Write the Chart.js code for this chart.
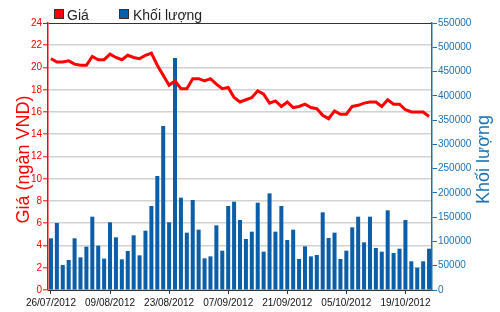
<!DOCTYPE html>
<html>
<head>
<meta charset="utf-8">
<script src="https://cdn.jsdelivr.net/npm/chart.js@4/dist/chart.umd.min.js"></script>
<style>
  html, body { margin: 0; padding: 0; background: #fff; }
  #wrap { width: 500px; height: 312px; position: relative; }
</style>
</head>
<body>
<div id="wrap"><canvas id="chart" width="500" height="312"></canvas></div>
<script>
// trading days, 26/07/2012 - 25/10/2012
const dates = [
    '26/07/2012', '27/07/2012', '30/07/2012', '31/07/2012',
    '01/08/2012', '02/08/2012', '03/08/2012', '06/08/2012', '07/08/2012', '08/08/2012',
    '09/08/2012', '10/08/2012', '13/08/2012', '14/08/2012', '15/08/2012', '16/08/2012',
    '17/08/2012', '20/08/2012', '21/08/2012', '22/08/2012', '23/08/2012', '24/08/2012',
    '27/08/2012', '28/08/2012', '29/08/2012', '30/08/2012', '31/08/2012',
    '04/09/2012', '05/09/2012', '06/09/2012', '07/09/2012', '10/09/2012', '11/09/2012',
    '12/09/2012', '13/09/2012', '14/09/2012', '17/09/2012', '18/09/2012', '19/09/2012',
    '20/09/2012', '21/09/2012', '24/09/2012', '25/09/2012', '26/09/2012', '27/09/2012',
    '28/09/2012', '01/10/2012', '02/10/2012', '03/10/2012', '04/10/2012', '05/10/2012',
    '08/10/2012', '09/10/2012', '10/10/2012', '11/10/2012', '12/10/2012', '15/10/2012',
    '16/10/2012', '17/10/2012', '18/10/2012', '19/10/2012', '22/10/2012', '23/10/2012',
    '24/10/2012', '25/10/2012'
];

// Giá (ngàn VND)
const price = [
    20.8, 20.5, 20.5, 20.6, 20.3, 20.2, 20.2, 21.0, 20.7, 20.7,
    21.2, 20.9, 20.7, 21.1, 20.9, 20.8, 21.1, 21.3, 20.2, 19.3,
    18.4, 18.8, 18.1, 18.1, 19.0, 19.0, 18.8, 19.0, 18.5, 18.1,
    18.2, 17.3, 16.9, 17.1, 17.3, 17.9, 17.6, 16.8, 17.0, 16.5,
    16.9, 16.4, 16.5, 16.7, 16.4, 16.3, 15.7, 15.4, 16.1, 15.8,
    15.8, 16.5, 16.6, 16.8, 16.9, 16.9, 16.5, 17.1, 16.7, 16.7,
    16.2, 16.0, 16.0, 16.0, 15.6
];

// Khối lượng
const volume = [
    106500, 138000, 51500, 61800, 106500, 67300, 89300, 151000, 91300, 64600,
    139400, 108500, 63200, 80300, 112600, 71400, 122200, 173000, 234800, 337800,
    139400, 477900, 190200, 118100, 185400, 124300, 65200, 69300, 133200, 81000,
    173000, 181900, 144200, 105100, 120200, 179900, 79000, 199100, 120200, 173000,
    103000, 124300, 63900, 90000, 69300, 72100, 160000, 107100, 118100, 63900,
    81000, 129100, 151000, 98200, 151000, 86500, 79000, 164100, 76200, 85100,
    144200, 59100, 46000, 59100, 85100
];

const priceTicks = { min: 0, max: 24, step: 2 };
const volumeTicks = { min: 0, max: 550000, step: 50000 };

const RED = '#ff0000';
const BLUE = '#0b5ea8';
const AXIS_BLUE = '#1a72b4';
const FONT = '"Liberation Sans", Arial, sans-serif';

// legend + axis titles, drawn on the canvas
const extras = {
    id: 'extras',
    afterDraw(chart) {
        const ctx = chart.ctx;
        ctx.save();

        ctx.font = '14px ' + FONT;
        ctx.textBaseline = 'alphabetic';
        ctx.lineWidth = 1;
        ctx.strokeStyle = '#333';

        ctx.fillStyle = RED;
        ctx.fillRect(54.5, 9.5, 9, 9);
        ctx.strokeRect(54.5, 9.5, 9, 9);
        ctx.fillStyle = '#222';
        ctx.fillText('Giá', 67, 19.5);

        ctx.fillStyle = BLUE;
        ctx.fillRect(119.5, 9.5, 9, 9);
        ctx.strokeRect(119.5, 9.5, 9, 9);
        ctx.fillStyle = '#222';
        ctx.fillText('Khối lượng', 133, 19.5);

        const area = chart.chartArea;
        const midY = (area.top + area.bottom) / 2 + 3;
        ctx.textAlign = 'center';
        ctx.textBaseline = 'middle';

        ctx.font = '18px ' + FONT;
        ctx.fillStyle = RED;
        ctx.translate(24, midY);
        ctx.rotate(-Math.PI / 2);
        ctx.fillText('Giá (ngàn VND)', 0, 0);
        ctx.setTransform(1, 0, 0, 1, 0, 0);

        ctx.fillStyle = AXIS_BLUE;
        ctx.translate(484, midY);
        ctx.rotate(-Math.PI / 2);
        ctx.fillText('Khối lượng', 0, 0);

        ctx.restore();
    }
};

const ctx = document.getElementById('chart').getContext('2d');
new Chart(ctx, {
    type: 'bar',
    data: {
        labels: dates,
        datasets: [
            {
                type: 'line',
                label: 'Giá',
                data: price,
                yAxisID: 'yPrice',
                borderColor: RED,
                backgroundColor: RED,
                borderWidth: 3,
                pointRadius: 0,
                tension: 0,
                order: 0
            },
            {
                type: 'bar',
                label: 'Khối lượng',
                data: volume,
                yAxisID: 'yVolume',
                backgroundColor: BLUE,
                barPercentage: 0.68,
                categoryPercentage: 1,
                order: 1
            }
        ]
    },
    options: {
        responsive: false,
        animation: false,
        layout: { padding: { top: 23, left: 0, right: 0, bottom: 0 } },
        plugins: {
            legend: { display: false },
            tooltip: { enabled: false }
        },
        scales: {
            x: {
                offset: true,
                afterFit: s => { s.height = 22; },
                grid: {
                    offset: false,
                    drawOnChartArea: false,
                    tickLength: 4,
                    color: c => (c.index % 10 === 0 ? '#333' : 'transparent')
                },
                border: { color: '#333', width: 1 },
                ticks: {
                    autoSkip: false,
                    maxRotation: 0,
                    padding: 3,
                    color: '#111',
                    font: { family: FONT, size: 10 },
                    callback: (v, i) => (i % 10 === 0 ? dates[i] : '')
                }
            },
            yPrice: {
                position: 'left',
                min: priceTicks.min,
                max: priceTicks.max,
                afterFit: s => { s.width = 48; },
                grid: {
                    color: c => (c.tick.value === priceTicks.max ? '#333' : '#d2d2d2'),
                    lineWidth: c => (c.tick.value === priceTicks.max ? 1 : 1.6),
                    tickColor: RED,
                    tickWidth: 1,
                    tickLength: 5
                },
                border: { color: RED, width: 1.5 },
                ticks: {
                    stepSize: priceTicks.step,
                    padding: 1,
                    color: RED,
                    font: { family: FONT, size: 10 }
                }
            },
            yVolume: {
                position: 'right',
                min: volumeTicks.min,
                max: volumeTicks.max,
                afterFit: s => { s.width = 68; },
                grid: {
                    drawOnChartArea: false,
                    tickColor: AXIS_BLUE,
                    tickLength: 5
                },
                border: { color: AXIS_BLUE, width: 1.5 },
                ticks: {
                    stepSize: volumeTicks.step,
                    padding: 1,
                    color: AXIS_BLUE,
                    font: { family: FONT, size: 10 },
                    callback: v => String(v)
                }
            }
        }
    },
    plugins: [extras]
});
</script>
</body>
</html>
